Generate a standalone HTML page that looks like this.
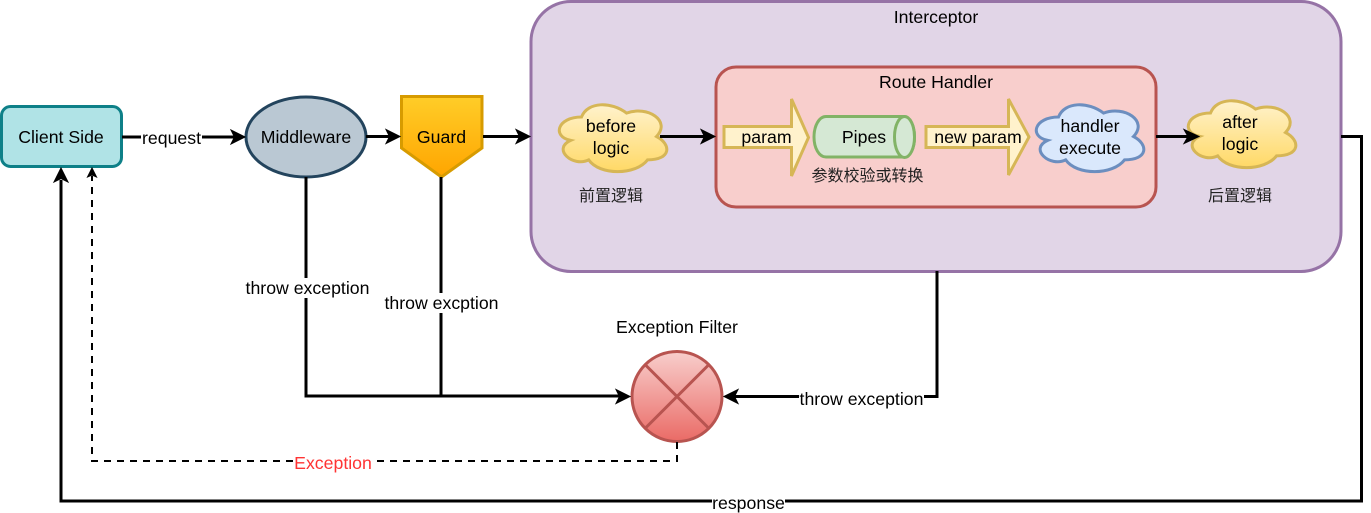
<!DOCTYPE html>
<html><head><meta charset="utf-8">
<style>
html,body{margin:0;padding:0;background:#fff;width:1371px;height:513px;overflow:hidden}
svg{display:block}
text{font-family:"Liberation Sans","Noto Sans CJK SC",sans-serif;font-size:17.7px;fill:#000;text-anchor:middle}
.c{font-size:16px;fill:#222}
.w{fill:#fff}
.l{fill:none;stroke:#000;stroke-width:3}
.a{stroke:#000;stroke-width:1;stroke-linejoin:miter}
.cl{vector-effect:non-scaling-stroke;stroke-width:3}
</style></head><body>
<svg width="1371" height="513" viewBox="0 0 1371 513" xmlns="http://www.w3.org/2000/svg">
<defs>
<linearGradient id="y" x1="0" y1="0" x2="0" y2="1"><stop offset="0" stop-color="#fff2cc"/><stop offset="1" stop-color="#ffd966"/></linearGradient>
<linearGradient id="o" x1="0" y1="0" x2="0" y2="1"><stop offset="0" stop-color="#ffcd28"/><stop offset="1" stop-color="#ffa500"/></linearGradient>
<linearGradient id="r" x1="0" y1="0" x2="0" y2="1"><stop offset="0" stop-color="#f8cecc"/><stop offset="1" stop-color="#ea6b66"/></linearGradient>
</defs>

<!-- containers -->
<rect x="531" y="1.5" width="810" height="270" rx="40" fill="#e1d5e7" stroke="#9673a6" stroke-width="3"/>
<rect x="716" y="67" width="440" height="140" rx="20" fill="#f8cecc" stroke="#b85450" stroke-width="3"/>

<!-- nodes -->
<rect x="1.500" y="106.500" width="120" height="60" rx="9" fill="#b0e3e6" stroke="#0e8088" stroke-width="3"/>
<ellipse cx="306" cy="137" rx="60" ry="40" fill="#bac8d3" stroke="#23445d" stroke-width="3"/>
<path d="M401.500 96.500H482V148L441.500 177L401.500 148Z" fill="url(#o)" stroke="#d79b00" stroke-width="3"/>

<path d="M724 126.500H791.500V99L808.500 137.500L791.500 176V147.500H724Z" fill="#fff2cc" stroke="#d6b656" stroke-width="3"/>
<path d="M926 126.500H1008.500V99L1029 137L1008.500 175V147.500H926Z" fill="#fff2cc" stroke="#d6b656" stroke-width="3"/>

<path d="M826 116.500H904C910 116.500 914.500 125.500 914.500 137S910 157 904 157H826C819 157 814 148 814 137S819 116.500 826 116.500Z" fill="#d5e8d4" stroke="#82b366" stroke-width="3"/>
<ellipse cx="904.500" cy="137" rx="10" ry="20.500" fill="#d5e8d4" stroke="#82b366" stroke-width="3"/>

<path class="cl" transform="translate(551.500 97.500) scale(120 78)" fill="url(#y)" stroke="#d6b656" d="M.25 .25C.05 .25 0 .5 .16 .55C0 .66 .18 .9 .31 .8C.4 1 .7 1 .8 .8C1 .8 1 .6 .875 .5C1 .3 .8 .1 .625 .2C.5 .05 .3 .05 .25 .25Z"/>
<path class="cl" transform="translate(1028.500 97.500) scale(120 78)" fill="#dae8fc" stroke="#6c8ebf" d="M.25 .25C.05 .25 0 .5 .16 .55C0 .66 .18 .9 .31 .8C.4 1 .7 1 .8 .8C1 .8 1 .6 .875 .5C1 .3 .8 .1 .625 .2C.5 .05 .3 .05 .25 .25Z"/>
<path class="cl" transform="translate(1180.500 93.500) scale(120 78)" fill="url(#y)" stroke="#d6b656" d="M.25 .25C.05 .25 0 .5 .16 .55C0 .66 .18 .9 .31 .8C.4 1 .7 1 .8 .8C1 .8 1 .6 .875 .5C1 .3 .8 .1 .625 .2C.5 .05 .3 .05 .25 .25Z"/>

<circle cx="677" cy="396.500" r="45" fill="url(#r)" stroke="#b85450" stroke-width="3"/>
<path d="M645 364.500L709 428.500M709 364.500L645 428.500" stroke="#b85450" stroke-width="3" fill="none"/>

<!-- connectors -->
<path class="l" d="M122 137H235"/>
<path class="l" d="M366 136.500H390"/>
<path class="l" d="M483 136.500H520"/>
<path class="l" d="M660 136.500H705"/>
<path class="l" d="M1156 136.500H1190"/>
<path class="l" d="M306 177V396H620"/>
<path class="l" d="M441 177V396"/>
<path class="l" d="M937 271V396.500H734"/>
<path class="l" d="M1341 136.500H1361.500V501H61V180"/>
<path fill="none" stroke="#000" stroke-width="2" stroke-dasharray="7 6" d="M677 442V461H92V176"/>

<!-- arrowheads -->
<path class="a" d="M245 137L231 130L234.500 137L231 144Z"/>
<path class="a" d="M400 136.500L386 129.500L389.500 136.500L386 143.500Z"/>
<path class="a" d="M530 136.500L516 129.500L519.500 136.500L516 143.500Z"/>
<path class="a" d="M715 136.500L701 129.500L704.500 136.500L701 143.500Z"/>
<path class="a" d="M1199 136.500L1184 129.500L1188 136.500L1184 143.500Z"/>
<path class="a" d="M630 396.500L616 389.500L619.500 396.500L616 403.500Z"/>
<path class="a" d="M724 396.500L738 389.500L734.500 396.500L738 403.500Z"/>
<path class="a" d="M61 168L54 182L61 178.500L68 182Z"/>
<path class="a" d="M92 168L87.500 177L92 175L96.500 177Z"/>

<!-- label backgrounds -->
<rect class="w" x="141" y="128" width="61" height="19"/>
<rect class="w" x="245" y="278" width="125" height="20"/>
<rect class="w" x="384" y="293" width="115" height="20"/>
<rect class="w" x="799" y="389" width="125" height="20"/>
<rect class="w" x="293" y="453" width="79" height="20"/>
<rect class="w" x="712" y="493" width="73" height="18"/>

<!-- labels -->
<text x="61" y="143">Client Side</text>
<text x="171.500" y="144">request</text>
<text x="306" y="143">Middleware</text>
<text x="441.500" y="143">Guard</text>
<text x="936" y="23">Interceptor</text>
<text x="936" y="88">Route Handler</text>
<text x="611" y="132">before</text>
<text x="611" y="154">logic</text>
<text x="766.500" y="143">param</text>
<text x="864" y="143">Pipes</text>
<text x="978" y="143">new param</text>
<text x="1090" y="132">handler</text>
<text x="1090" y="154">execute</text>
<text x="1240" y="128">after</text>
<text x="1240" y="150">logic</text>
<text class="c" x="611" y="201">前置逻辑</text>
<text class="c" x="867.500" y="181">参数校验或转换</text>
<text class="c" x="1240" y="201">后置逻辑</text>
<text x="307.500" y="294">throw exception</text>
<text x="441.500" y="309">throw excption</text>
<text x="677" y="333">Exception Filter</text>
<text x="861.500" y="405">throw exception</text>
<text x="333" y="469" style="fill:#ff3333">Exception</text>
<text x="748.500" y="509">response</text>
</svg>
</body></html>
